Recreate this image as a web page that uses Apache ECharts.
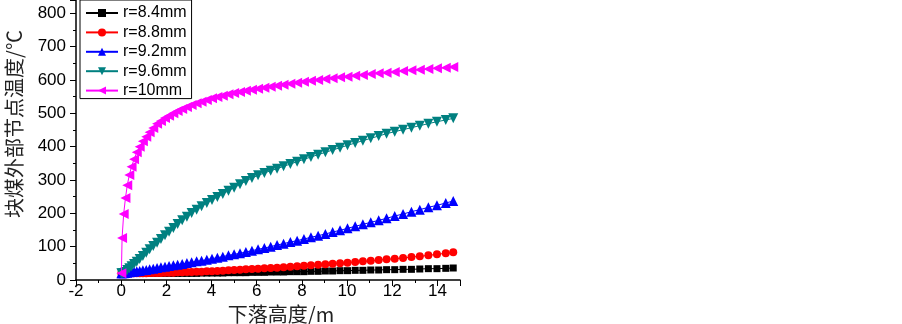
<!DOCTYPE html>
<html>
<head>
<meta charset="utf-8">
<script src="https://cdn.jsdelivr.net/npm/echarts@6/dist/echarts.min.js"></script>
<style>
  html, body { margin: 0; padding: 0; background: #fff; }
  #chart { width: 902px; height: 324px; }
</style>
</head>
<body>
<div id="chart"></div>
<script>
// 下落高度 (m)
var heights = [0.01, 0.04, 0.11, 0.19, 0.27, 0.36, 0.46, 0.57, 0.69, 0.82,
  0.96, 1.11, 1.26, 1.42, 1.59, 1.76, 1.94, 2.12, 2.31, 2.50,
  2.70, 2.91, 3.12, 3.34, 3.56, 3.79, 4.02, 4.26, 4.50, 4.75,
  5.00, 5.26, 5.52, 5.79, 6.06, 6.34, 6.62, 6.90, 7.19, 7.49,
  7.79, 8.09, 8.40, 8.72, 9.04, 9.36, 9.69, 10.02, 10.36, 10.70,
  11.05, 11.40, 11.75, 12.11, 12.48, 12.85, 13.22, 13.60, 13.98, 14.37, 14.70];

// 节点温度 (℃)
var r84 = [20, 20, 20, 20, 20, 20, 20, 20, 20, 20,
  20, 20, 20, 20, 20, 20, 20, 20, 20, 20,
  20, 20, 20, 20, 21, 21, 21, 21, 21, 22,
  22, 22, 22, 23, 23, 23, 24, 24, 24, 25,
  25, 25, 26, 26, 27, 27, 28, 28, 29, 29,
  30, 30, 31, 31, 32, 32, 33, 34, 34, 35, 36];

var r88 = [20, 20, 20, 20, 20, 20, 20, 20, 20, 20,
  20, 20, 21, 21, 21, 21, 22, 22, 22, 23,
  23, 24, 24, 25, 25, 26, 26, 27, 28, 29,
  30, 31, 32, 33, 34, 35, 36, 37, 38, 40,
  41, 43, 44, 46, 47, 49, 50, 52, 54, 56,
  58, 60, 62, 64, 66, 69, 71, 74, 77, 80, 83];

var r92 = [20, 20, 20, 21, 22, 23, 24, 25, 26, 27,
  29, 30, 32, 34, 36, 38, 40, 42, 44, 46,
  48, 51, 53, 56, 58, 61, 64, 67, 70, 74,
  77, 80, 84, 88, 92, 96, 100, 105, 109, 114,
  118, 123, 128, 133, 138, 144, 149, 155, 161, 167,
  173, 179, 185, 192, 198, 205, 211, 218, 224, 231, 237];

var r96 = [20, 20, 21, 24, 30, 35, 41, 48, 55, 63,
  72, 82, 92, 102, 112, 123, 134, 145, 156, 168,
  179, 190, 201, 211, 221, 231, 240, 249, 258, 268,
  277, 287, 297, 306, 314, 321, 328, 334, 341, 348,
  355, 362, 369, 376, 383, 390, 397, 404, 411, 418,
  425, 432, 439, 445, 451, 457, 463, 469, 475, 480, 485];

var r10 = [20, 126, 198, 246, 284, 315, 340, 362, 383, 400,
  416, 430, 443, 456, 469, 477, 486, 493, 500, 507,
  513, 519, 525, 530, 535, 540, 545, 549, 553, 557,
  561, 564, 568, 571, 574, 577, 580, 583, 586, 589,
  592, 595, 598, 600, 603, 605, 608, 610, 613, 615,
  618, 620, 622, 624, 627, 629, 631, 633, 635, 637, 639];

var names = ['r=8.4mm', 'r=8.8mm', 'r=9.2mm', 'r=9.6mm', 'r=10mm'];
var colors = ['#000000', '#ff0000', '#0000ff', '#008080', '#ff00ff'];
var symbols = ['rect', 'circle', 'triangle', 'triangle', 'triangle'];
var rotates = [0, 0, 0, 180, 90];
var sizes = [7, 8, 10, 10, 10];
var temps = [r84, r88, r92, r96, r10];

function pairs(ys) {
  return heights.map(function (x, i) { return [x, ys[i]]; });
}

var chart = echarts.init(document.getElementById('chart'));

var series = names.map(function (n, k) {
  return {
    name: n,
    type: 'line',
    data: pairs(temps[k]),
    symbol: symbols[k],
    symbolRotate: rotates[k],
    symbolSize: sizes[k],
    showAllSymbol: true,
    animation: false,
    lineStyle: { color: colors[k], width: 1 },
    itemStyle: { color: colors[k] },
    z: 2 + k
  };
});

var axisFont = { color: '#000', fontSize: 17, fontFamily: 'Liberation Sans, Arial' };

chart.setOption({
  backgroundColor: '#fff',
  animation: false,
  grid: { left: 76, top: 0, width: 384, height: 280, outerBoundsMode: 'none' },
  legend: {
    orient: 'vertical',
    left: 80,
    top: 0,
    padding: [5, 5, 0, 5],
    itemGap: 3.4,
    itemWidth: 32,
    itemHeight: 10,
    borderColor: '#000',
    borderWidth: 1,
    textStyle: { color: '#000', fontSize: 16, lineHeight: 16, fontFamily: 'Liberation Sans, Arial' },
    data: names
  },
  xAxis: {
    type: 'value',
    min: -2,
    max: 15,
    interval: 2,
    name: '下落高度/m',
    nameLocation: 'middle',
    nameGap: 22,
    nameTextStyle: { color: '#222', fontSize: 20, fontFamily: 'Noto Sans CJK SC', padding: [0, 0, 0, 26] },
    axisLine: { show: true, onZero: false, lineStyle: { color: '#000', width: 1.5 } },
    axisTick: { show: true, length: 6, lineStyle: { color: '#000' } },
    minorTick: { show: true, splitNumber: 2, length: 3, lineStyle: { color: '#000' } },
    axisLabel: Object.assign({ margin: 3, showMaxLabel: false }, axisFont),
    splitLine: { show: false }
  },
  yAxis: {
    type: 'value',
    min: 0,
    max: 840,
    interval: 100,
    name: '块煤外部节点温度/℃',
    nameLocation: 'middle',
    nameRotate: 90,
    nameGap: 52,
    nameTextStyle: { color: '#222', fontSize: 20, fontFamily: 'Noto Sans CJK SC', padding: [0, 0, 0, 32] },
    axisLine: { show: true, onZero: false, lineStyle: { color: '#000', width: 1.5 } },
    axisTick: { show: true, length: 6, lineStyle: { color: '#000' } },
    minorTick: { show: true, splitNumber: 2, length: 3, lineStyle: { color: '#000' } },
    axisLabel: Object.assign({ margin: 10, showMaxLabel: false }, axisFont),
    splitLine: { show: false }
  },
  series: series
});
</script>
</body>
</html>
